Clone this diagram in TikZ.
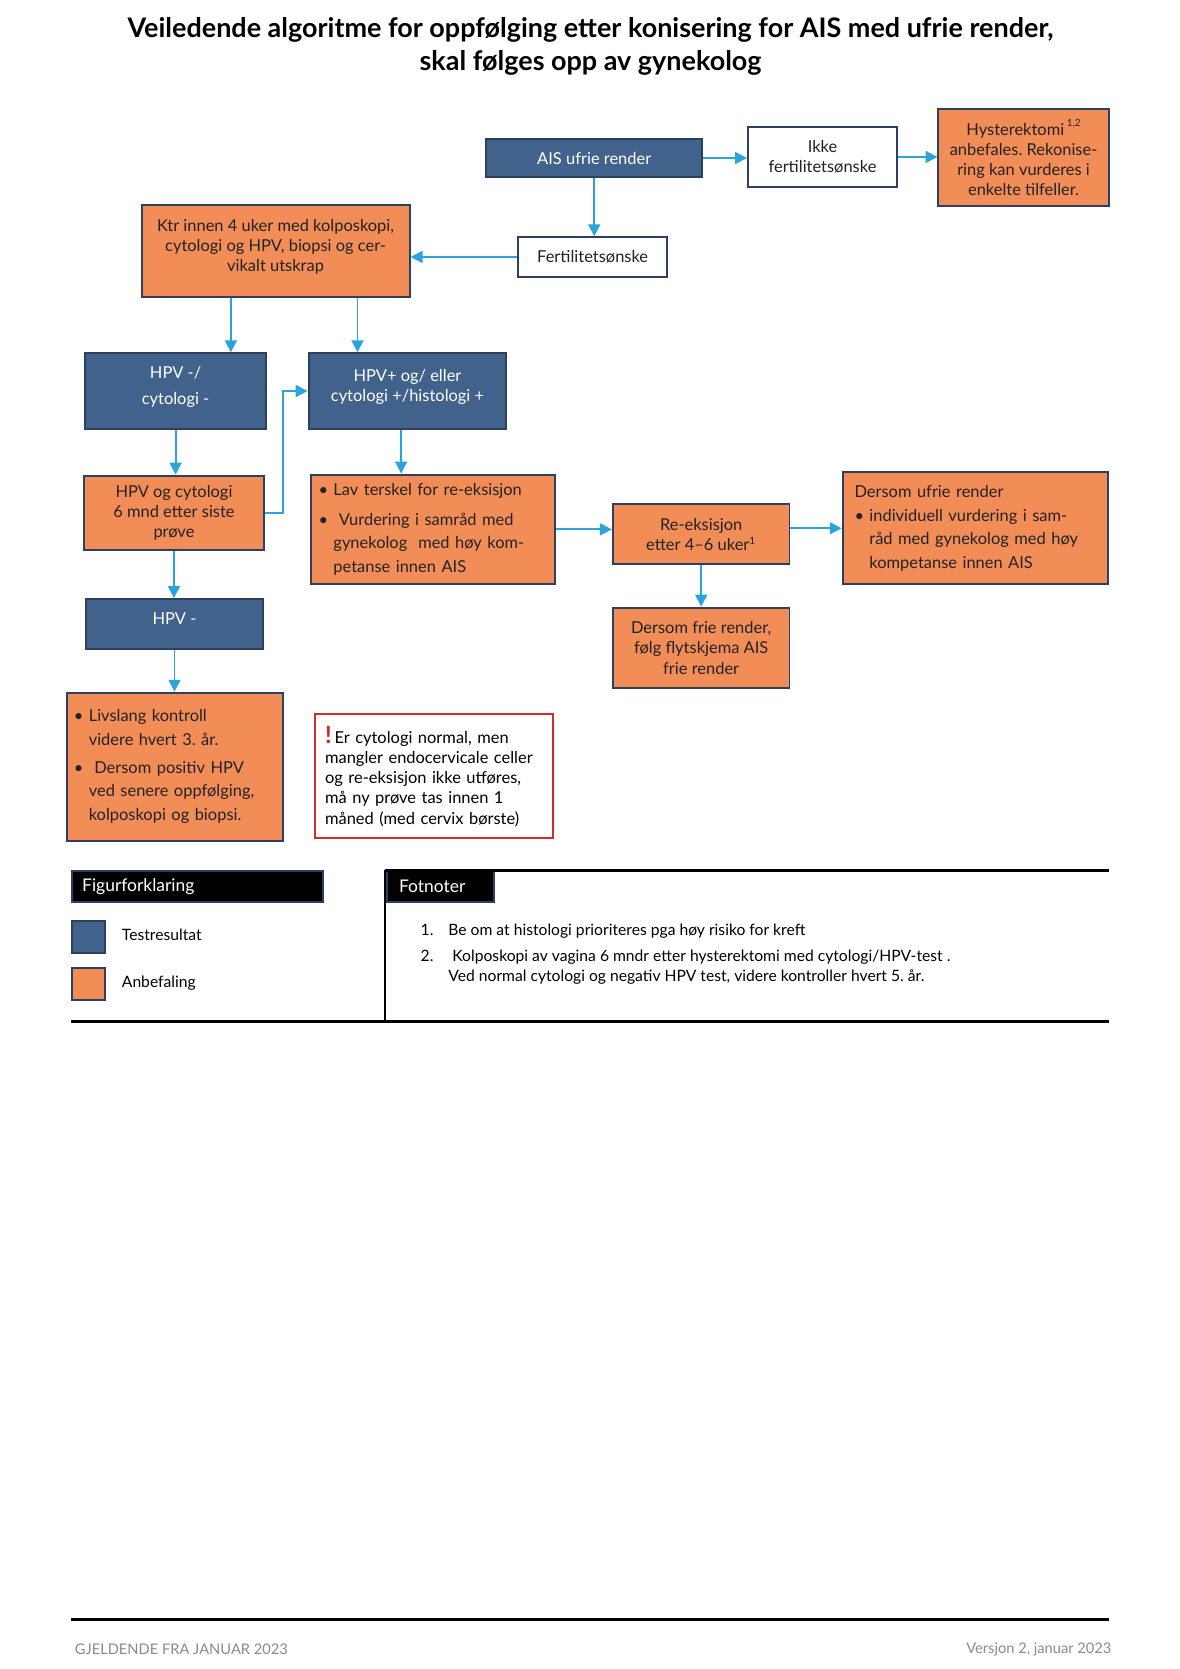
\documentclass[tikz,border=0pt]{standalone}
\usepackage{fontspec}
\setmainfont{Lato}
\usetikzlibrary{arrows.meta, positioning}
\frenchspacing

\definecolor{testblue}{HTML}{41628B}
\definecolor{advorange}{HTML}{F28D58}
\definecolor{boxline}{HTML}{2B4063}
\definecolor{flowblue}{HTML}{2CA3DC}
\definecolor{warnred}{HTML}{D42A2F}
\definecolor{textdark}{HTML}{222222}
\definecolor{footgrey}{HTML}{8A8A8A}

\newcommand\bodysize{\fontsize{8.3}{10.2}\selectfont}
\newcommand\listsize{\fontsize{8.3}{12}\selectfont}
\newcommand\notesize{\fontsize{7.9}{10}\selectfont}
\newcommand\headsize{\fontsize{8.8}{10}\selectfont}
\newcommand\footsize{\fontsize{7.4}{9}\selectfont}
\newcommand\blt{\makebox[7.5pt][l]{\textbullet}}
\newcommand\ind{\hspace*{7.5pt}}

\tikzset{
	base/.style={draw=boxline, line width=1pt, align=center, font=\bodysize},
	size/.style 2 args={minimum width=#1*0.5368pt, minimum height=#2*0.5368pt},
	lift/.style={text depth=6pt},
	testbox/.style={base, fill=testblue, text=white},
	advbox/.style={base, fill=advorange, text=textdark},
	plainbox/.style={base, fill=white, text=textdark},
	listbox/.style={advbox, align=left, font=\listsize},
	warnbox/.style={draw=warnred, line width=1pt, fill=white, align=left, font=\bodysize},
	headbox/.style={draw=boxline, line width=1pt, fill=black, text=white, align=left, font=\headsize},
	flow/.style={-{Triangle[length=6pt, width=6pt]}, line width=1pt, draw=flowblue},
	rule/.style={line width=1.3pt, draw=black}
}

\begin{document}
\begin{tikzpicture}[x=0.5368pt, y=-0.5368pt]
	\useasboundingbox (0,0) rectangle (1109,1568.6);

	\node[font=\fontsize{13.6}{16.6}\selectfont\bfseries, align=center] (title) at (555,43.5)
		{Veiledende algoritme for oppfølging etter konisering for AIS med ufrie render,\\
		skal følges opp av gynekolog};

	% top row
	\node[testbox, size={203}{35}] (ais) at (558.5,148.5) {AIS ufrie render};
	\node[plainbox, size={140}{57}] (ikke) at (773,147.5) {Ikke\\fertilitetsønske};
	\node[advbox, size={160}{92}] (hyst) at (962,148)
		{Hysterektomi\,\raisebox{1.1ex}{\tiny 1,2}\\anbefales. Rekonise-\\ring kan vurderes i\\enkelte tilfeller.};
	\node[plainbox, size={140}{37}] (fert) at (557,241.5) {Fertilitetsønske};
	\node[advbox, lift, size={252}{86}] (ktr) at (259,236)
		{Ktr innen 4 uker med kolposkopi,\\cytologi og HPV, biopsi og cer-\\vikalt utskrap};

	% test results
	\node[testbox, lift, size={170}{71}] (hpvneg) at (165,367.5) {HPV -/\\[3pt]cytologi -};
	\node[testbox, lift, size={186}{71}] (hpvpos) at (383,367.5) {HPV+ og/ eller\\cytologi +/histologi +};
	\node[advbox, size={169}{70}] (hpvcyt) at (163.5,482) {HPV og cytologi\\6 mnd etter siste\\prøve};
	\node[testbox, lift, size={166}{47}] (hpvneg2) at (164,586.5) {HPV -};

	% recommendations
	\node[listbox, size={230}{103}, inner xsep=4pt, text width=115.5pt] (lav) at (407,497.5)
		{\blt Lav terskel for re-eksisjon\\[3pt]
		\blt\ Vurdering i samråd med\\
		\ind gynekolog\ \ med høy kom-\\
		\ind petanse innen AIS};
	\node[advbox, size={166}{56}] (reeks) at (659,502) {Re-eksisjon\\etter 4--6 uker\textsuperscript{\tiny 1}};
	\node[listbox, size={249}{105}, inner xsep=6pt, text width=121.7pt] (ufrie) at (916.5,496.5)
		{Dersom ufrie render\\
		\blt individuell vurdering i sam-\\
		\ind råd med gynekolog med høy\\
		\ind kompetanse innen AIS};
	\node[advbox, size={166}{76}] (frie) at (659,609) {Dersom frie render,\\følg flytskjema AIS\\frie render};
	\node[listbox, size={203}{139}, inner xsep=3.5pt, text width=102pt] (livs) at (164.5,720.5)
		{\blt Livslang kontroll\\
		\ind videre hvert 3. år.\\[2pt]
		\blt\ Dersom positiv HPV\\
		\ind ved senere oppfølging,\\
		\ind kolposkopi og biopsi.};
	\node[warnbox, size={224}{117}, inner xsep=5pt, text width=110pt] (warn) at (408,729.5)
		{{\color{warnred}\bfseries\fontsize{12}{10}\selectfont !}\,Er cytologi normal, men\\
		mangler endocervicale celler\\
		og re-eksisjon ikke utføres,\\
		må ny prøve tas innen 1\\
		måned (med cervix børste)};

	% connectors
	\draw[flow] (ais.east) -- (ais.east -| ikke.west);
	\draw[flow] (ikke.east) -- (ikke.east -| hyst.west);
	\draw[flow] (ais.south) -- (ais.south |- fert.north);
	\draw[flow] (fert.west) -- (fert.west -| ktr.east);
	\draw[flow] ([xshift=-42*0.5368pt]ktr.south) -- ([xshift=-42*0.5368pt]ktr.south |- hpvneg.north);
	\draw[flow] ([xshift=77*0.5368pt]ktr.south) -- ([xshift=77*0.5368pt]ktr.south |- hpvpos.north);
	\draw[flow] (hpvneg.south) -- (hpvneg.south |- hpvcyt.north);
	\draw[flow] (hpvcyt.east) -- ++(17,0) |- (hpvpos.west);
	\draw[flow] ([xshift=-6*0.5368pt]hpvpos.south) -- ([xshift=-6*0.5368pt]hpvpos.south |- lav.north);
	\draw[flow] (lav.east) -- (lav.east -| reeks.west);
	\draw[flow] (ufrie.west -| reeks.east) -- (ufrie.west);
	\draw[flow] (reeks.south) -- (frie.north);
	\draw[flow] (hpvcyt.south) -- (hpvcyt.south |- hpvneg2.north);
	\draw[flow] (hpvneg2.south) -- (hpvneg2.south |- livs.north);

	% legend and notes
	\node[headbox, size={236}{29}, inner xsep=5pt, text width=116.7pt, anchor=north west] (figur) at (67,818) {Figurforklaring};
	\node[headbox, size={100}{29}, inner xsep=6pt, text width=41.7pt, anchor=north west] (fotnoter) at (363,818) {Fotnoter};
	\draw[rule] (362,818) -- (1042,818);
	\draw[rule] (362,818) -- (362,960);
	\draw[rule] (67,960) -- (1042,960);

	\node[draw=boxline, line width=0.8pt, fill=testblue, size={31}{30}, anchor=north west] (swtest) at (67,865) {};
	\node[draw=boxline, line width=0.8pt, fill=advorange, size={31}{30}, anchor=north west] (swadv) at (67,909) {};
	\node[font=\notesize, anchor=west] (lbtest) at (108,879) {Testresultat};
	\node[font=\notesize, anchor=west] (lbadv) at (108,924) {Anbefaling};

	\node[font=\notesize, anchor=north west, align=left, inner sep=0pt] (notes) at (395,866)
		{\begin{tabular}{@{}p{14pt}@{}l@{}}
		1. & Be om at histologi prioriteres pga høy risiko for kreft\\[3pt]
		2. & \ Kolposkopi av vagina 6 mndr etter hysterektomi med cytologi/HPV-test .\\
		   & Ved normal cytologi og negativ HPV test, videre kontroller hvert 5. år.
		\end{tabular}};

	% footer
	\draw[line width=1.6pt] (67,1522) -- (1042,1522);
	\node[font=\footsize, text=footgrey, anchor=west, inner sep=0pt] (valid) at (70,1550) {GJELDENDE FRA JANUAR 2023};
	\node[font=\footsize, text=footgrey, anchor=east, inner sep=0pt] (version) at (1045,1550) {Versjon 2, januar 2023};
\end{tikzpicture}
\end{document}
